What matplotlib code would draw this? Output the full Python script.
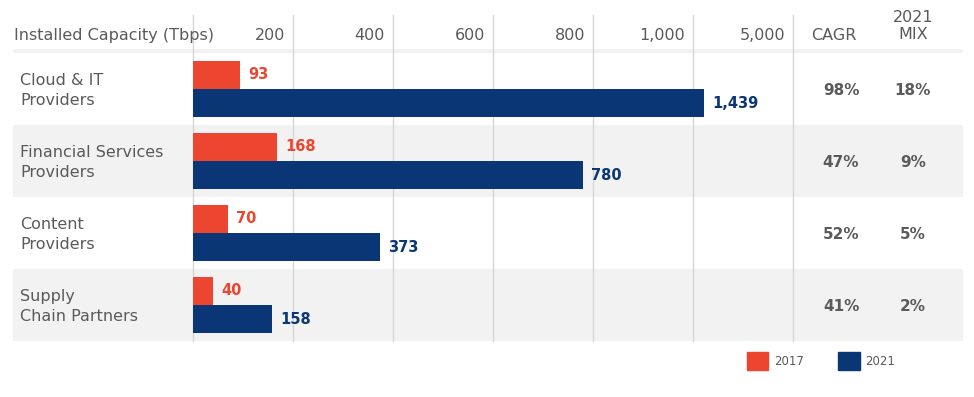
import numpy as np
import matplotlib
matplotlib.use("Agg")
import matplotlib.pyplot as plt
from matplotlib.patches import Patch
from matplotlib.transforms import ScaledTranslation, blended_transform_factory

# data
segments = ["Cloud & IT\nProviders", "Financial Services\nProviders",
            "Content\nProviders", "Supply\nChain Partners"]
cap_2017 = [93, 168, 70, 40]
cap_2021 = [1439, 780, 373, 158]
cagr = ["98%", "47%", "52%", "41%"]
mix_2021 = ["18%", "9%", "5%", "2%"]
tick_values = [0, 200, 400, 600, 800, 1000, 5000]
tick_labels = ["", "200", "400", "600", "800", "1,000", "5,000"]

RED = "#EC4630"
NAVY = "#0A3675"
GREY_TXT = "#5a5a5a"
BAND = "#f2f2f2"
GRID = "#d6d6d6"


def fwd(v):
    v = np.asarray(v, dtype=float)
    return np.where(v <= 1000, v, 1000 + (v - 1000) * 0.05)


def inv(u):
    u = np.asarray(u, dtype=float)
    return np.where(u <= 1000, u, 1000 + (u - 1000) * 20)


W, H = 974, 397
fig = plt.figure(figsize=(W / 100, H / 100), dpi=100)
ax = fig.add_axes([193 / W, 1 - 341 / H, 600 / W, 326 / H])
ax.set_xscale("function", functions=(fwd, inv))
ax.set_xlim(0, 5000)
ax.set_ylim(3.5, -1.028)

# row bands
x0, x1 = (13 - 193) / 600, (963 - 193) / 600
ax.axhspan(-0.5 - 4 / 72, -0.5, xmin=x0, xmax=x1, color=BAND, lw=0, zorder=0, clip_on=False)
for i in range(len(segments)):
    if i % 2 == 1:
        ax.axhspan(i - 0.5, i + 0.5, xmin=x0, xmax=x1, color=BAND, lw=0, zorder=0, clip_on=False)

# grid
ax.set_xticks(tick_values)
ax.set_xticklabels([])
ax.tick_params(length=0)
ax.set_yticks([])
ax.grid(axis="x", color=GRID, lw=1)
ax.set_axisbelow(True)
for gl in ax.get_xgridlines():
    gl.set_clip_on(False)
for s in ax.spines.values():
    s.set_visible(False)

# bars
y = np.arange(len(segments))
h = 0.39
b1 = ax.barh(y - h / 2, cap_2017, height=h, color=RED, zorder=2, label="2017")
b2 = ax.barh(y + h / 2, cap_2021, height=h, color=NAVY, zorder=2, label="2021")
ax.bar_label(b1, labels=[f"{v:,}" for v in cap_2017], padding=6,
             color=RED, fontsize=10.5, fontweight="bold")
ax.bar_label(b2, labels=[f"{v:,}" for v in cap_2021], padding=6,
             color=NAVY, fontsize=10.5, fontweight="bold")

# header
hdr_y = -0.5 - (53 - 35) / 72
off = ax.transData + ScaledTranslation(-8 / 100, 0, fig.dpi_scale_trans)
for v, lab in zip(tick_values, tick_labels):
    ax.text(v, hdr_y, lab, transform=off, ha="right", va="center",
            fontsize=11.5, color=GREY_TXT)

figx = blended_transform_factory(fig.transFigure, ax.transData)
ax.text(14 / W, hdr_y, "Installed Capacity (Tbps)", transform=figx,
        ha="left", va="center", fontsize=11.5, color=GREY_TXT)
ax.text(834 / W, hdr_y, "CAGR", transform=figx, ha="center", va="center",
        fontsize=11.5, color=GREY_TXT)
ax.text(913 / W, hdr_y - 9 / 72, "2021\nMIX", transform=figx, ha="center",
        va="center", fontsize=11.5, color=GREY_TXT, linespacing=1.1)

# row labels and table columns
for i, name in enumerate(segments):
    ax.text(20 / W, i + 0.02, name, transform=figx, ha="left", va="center",
            fontsize=11.5, color=GREY_TXT, linespacing=1.38)
    ax.text(841 / W, i + 0.02, cagr[i], transform=figx, ha="center", va="center",
            fontsize=11, fontweight="bold", color=GREY_TXT)
    ax.text(913 / W, i + 0.02, mix_2021[i], transform=figx, ha="center", va="center",
            fontsize=11, fontweight="bold", color=GREY_TXT)

# legend
handles = [Patch(color=RED, label="2017"), Patch(color=NAVY, label="2021")]
fig.legend(handles=handles, loc="upper left", bbox_to_anchor=(747 / W, 1 - 352 / H),
           ncol=2, frameon=False, borderpad=0, borderaxespad=0,
           handlelength=1.8, handleheight=1.95, handletextpad=0.5,
           columnspacing=2.9, fontsize=8.5, labelcolor=GREY_TXT)

fig.savefig("out.png", dpi=100)
